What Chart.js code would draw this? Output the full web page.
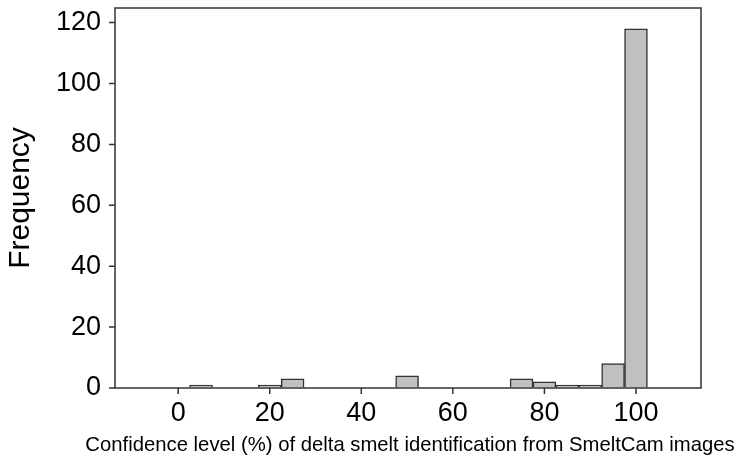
<!DOCTYPE html>
<html><head><meta charset="utf-8">
<script src="https://cdn.jsdelivr.net/npm/chart.js@4"></script>
<style>html,body{margin:0;padding:0;background:#fff}#wrap{width:740px;height:463px}</style>
</head><body><div id="wrap"><canvas id="c" width="740" height="463"></canvas></div>
<script>
const binCenters = [5, 20, 25, 50, 75, 80, 85, 90, 95, 100];
const frequencies = [1, 1, 3, 4, 3, 2, 1, 1, 8, 118];
const xTicks = [0, 20, 40, 60, 80, 100];
const yTicks = [0, 20, 40, 60, 80, 100, 120];
const xTitle = 'Confidence level (%) of delta smelt identification from SmeltCam images';
const yTitle = 'Frequency';

const frame = {
  id: 'frame',
  afterDatasetsDraw(chart) {
    const a = chart.chartArea, ctx = chart.ctx;
    const xs = chart.scales.x, ys = chart.scales.y;
    ctx.save();
    ctx.strokeStyle = '#333';
    ctx.lineWidth = 1.5;
    ctx.strokeRect(a.left, a.top, a.right - a.left, a.bottom - a.top);
    ctx.beginPath();
    xTicks.forEach(v => {
      const px = xs.getPixelForValue(v);
      ctx.moveTo(px, a.bottom);
      ctx.lineTo(px, a.bottom + 6);
    });
    yTicks.forEach(v => {
      const py = ys.getPixelForValue(v);
      ctx.moveTo(a.left, py);
      ctx.lineTo(a.left - 6, py);
    });
    ctx.stroke();
    // x-axis title (drawn without width compression)
    ctx.fillStyle = '#000';
    ctx.font = '20.3px "Liberation Sans"';
    ctx.textAlign = 'center';
    ctx.textBaseline = 'alphabetic';
    ctx.fillText(xTitle, (a.left + a.right) / 2 + 2, 451);
    ctx.restore();
  }
};

new Chart(document.getElementById('c'), {
  type: 'bar',
  data: {
    datasets: [{
      data: binCenters.map((x, i) => ({x: x, y: frequencies[i]})),
      backgroundColor: '#c0c0c0',
      borderColor: '#333',
      borderWidth: 1.5,
      barPercentage: 1,
      categoryPercentage: 1
    }]
  },
  plugins: [frame],
  options: {
    responsive: false,
    animation: false,
    layout: {padding: {left: 0, right: 39, top: 8, bottom: 0}},
    plugins: {legend: {display: false}, tooltip: {enabled: false}},
    scales: {
      x: {
        type: 'linear',
        min: -13.8,
        max: 114.2,
        offset: false,
        afterBuildTicks: s => { s.ticks = xTicks.map(v => ({value: v})); },
        afterFit: s => { s.height = 75; s.paddingLeft = 0; s.paddingRight = 0; },
        grid: {display: true, offset: false, drawOnChartArea: false, drawTicks: true, tickLength: 6, color: 'rgba(0,0,0,0)'},
        border: {display: false},
        ticks: {color: '#000', font: {family: 'Liberation Sans', size: 27}, padding: 3, maxRotation: 0},
        title: {display: false}
      },
      y: {
        min: 0,
        max: 124.8,
        afterBuildTicks: s => { s.ticks = yTicks.map(v => ({value: v})); },
        afterFit: s => { s.width = 115; s.paddingTop = 0; s.paddingBottom = 0; },
        grid: {display: true, drawOnChartArea: false, drawTicks: true, tickLength: 6, color: 'rgba(0,0,0,0)'},
        border: {display: false},
        ticks: {color: '#000', font: {family: 'Liberation Sans', size: 27}, padding: 8},
        title: {display: true, text: yTitle, color: '#000', font: {family: 'Liberation Sans', size: 30}, padding: {top: 3, bottom: 0}}
      }
    }
  }
});
</script></body></html>
